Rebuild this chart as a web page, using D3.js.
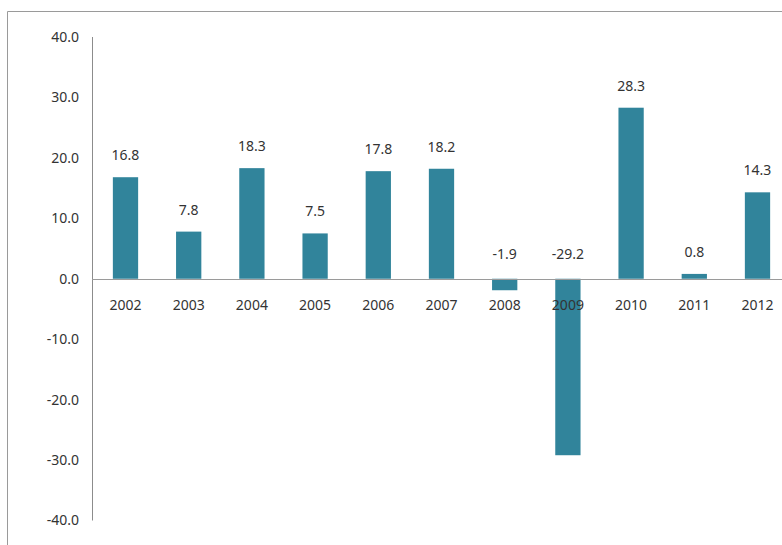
<!DOCTYPE html>
<html><head><meta charset="utf-8">
<script src="https://cdn.jsdelivr.net/npm/d3@7"></script>
<style>body{margin:0;background:#fff}svg{display:block}</style>
</head><body>
<svg id="c" width="782" height="545"></svg>
<script>
const years = ["2002","2003","2004","2005","2006","2007","2008","2009","2010","2011","2012"];
const values = [16.8, 7.8, 18.3, 7.5, 17.8, 18.2, -1.9, -29.2, 28.3, 0.8, 14.3];
const yTicks = [40, 30, 20, 10, 0, -10, -20, -30, -40];

const svg = d3.select("#c");
const font = "'Noto Sans', 'Open Sans', sans-serif";
const fmt = d => d.toFixed(1);
// frame
svg.append("path").attr("d","M7.5,545 L7.5,11.5 L782,11.5").attr("fill","none").attr("stroke","#9a9a9a").attr("stroke-width",1);

const y = d3.scaleLinear().domain([-40,40]).range([520.5,37]);
const pi = 0.6, po = 0.33, step = 63.2;
const x = d3.scaleBand().domain(years).range([92, 92+step*(years.length-pi+2*po)]).paddingInner(pi).paddingOuter(po);

// y axis
svg.append("line").attr("x1",92.5).attr("x2",92.5).attr("y1",y(40)).attr("y2",y(-40)).attr("stroke","#8c8c8c");
svg.selectAll(".yt").data(yTicks).enter().append("text")
  .attr("x",79).attr("y",d=>y(d)).attr("dy","0.35em").attr("text-anchor","end")
  .attr("font-family",font).attr("font-size",14).attr("fill","#333")
  .text(fmt);

// bars
svg.selectAll(".bar").data(values).enter().append("rect")
  .attr("x",(d,i)=>x(years[i])).attr("width",x.bandwidth())
  .attr("y",d=>y(Math.max(0,d))).attr("height",d=>Math.abs(y(d)-y(0)))
  .attr("fill","#31849b");

// zero line
svg.append("line").attr("x1",92).attr("x2",782).attr("y1",Math.round(y(0))+0.5).attr("y2",Math.round(y(0))+0.5).attr("stroke","#9a9a9a");

// category labels
svg.selectAll(".xl").data(years).enter().append("text")
  .attr("x",d=>x(d)+x.bandwidth()/2).attr("y",y(0)+31).attr("text-anchor","middle")
  .attr("font-family",font).attr("font-size",14).attr("fill","#333").text(d=>d);

// value labels
svg.selectAll(".vl").data(values).enter().append("text")
  .attr("x",(d,i)=>x(years[i])+x.bandwidth()/2)
  .attr("y",d=> d>=0 ? y(d)-17 : y(0)-20)
  .attr("text-anchor","middle")
  .attr("font-family",font).attr("font-size",14).attr("fill","#333")
  .text(fmt);
</script>
</body></html>
